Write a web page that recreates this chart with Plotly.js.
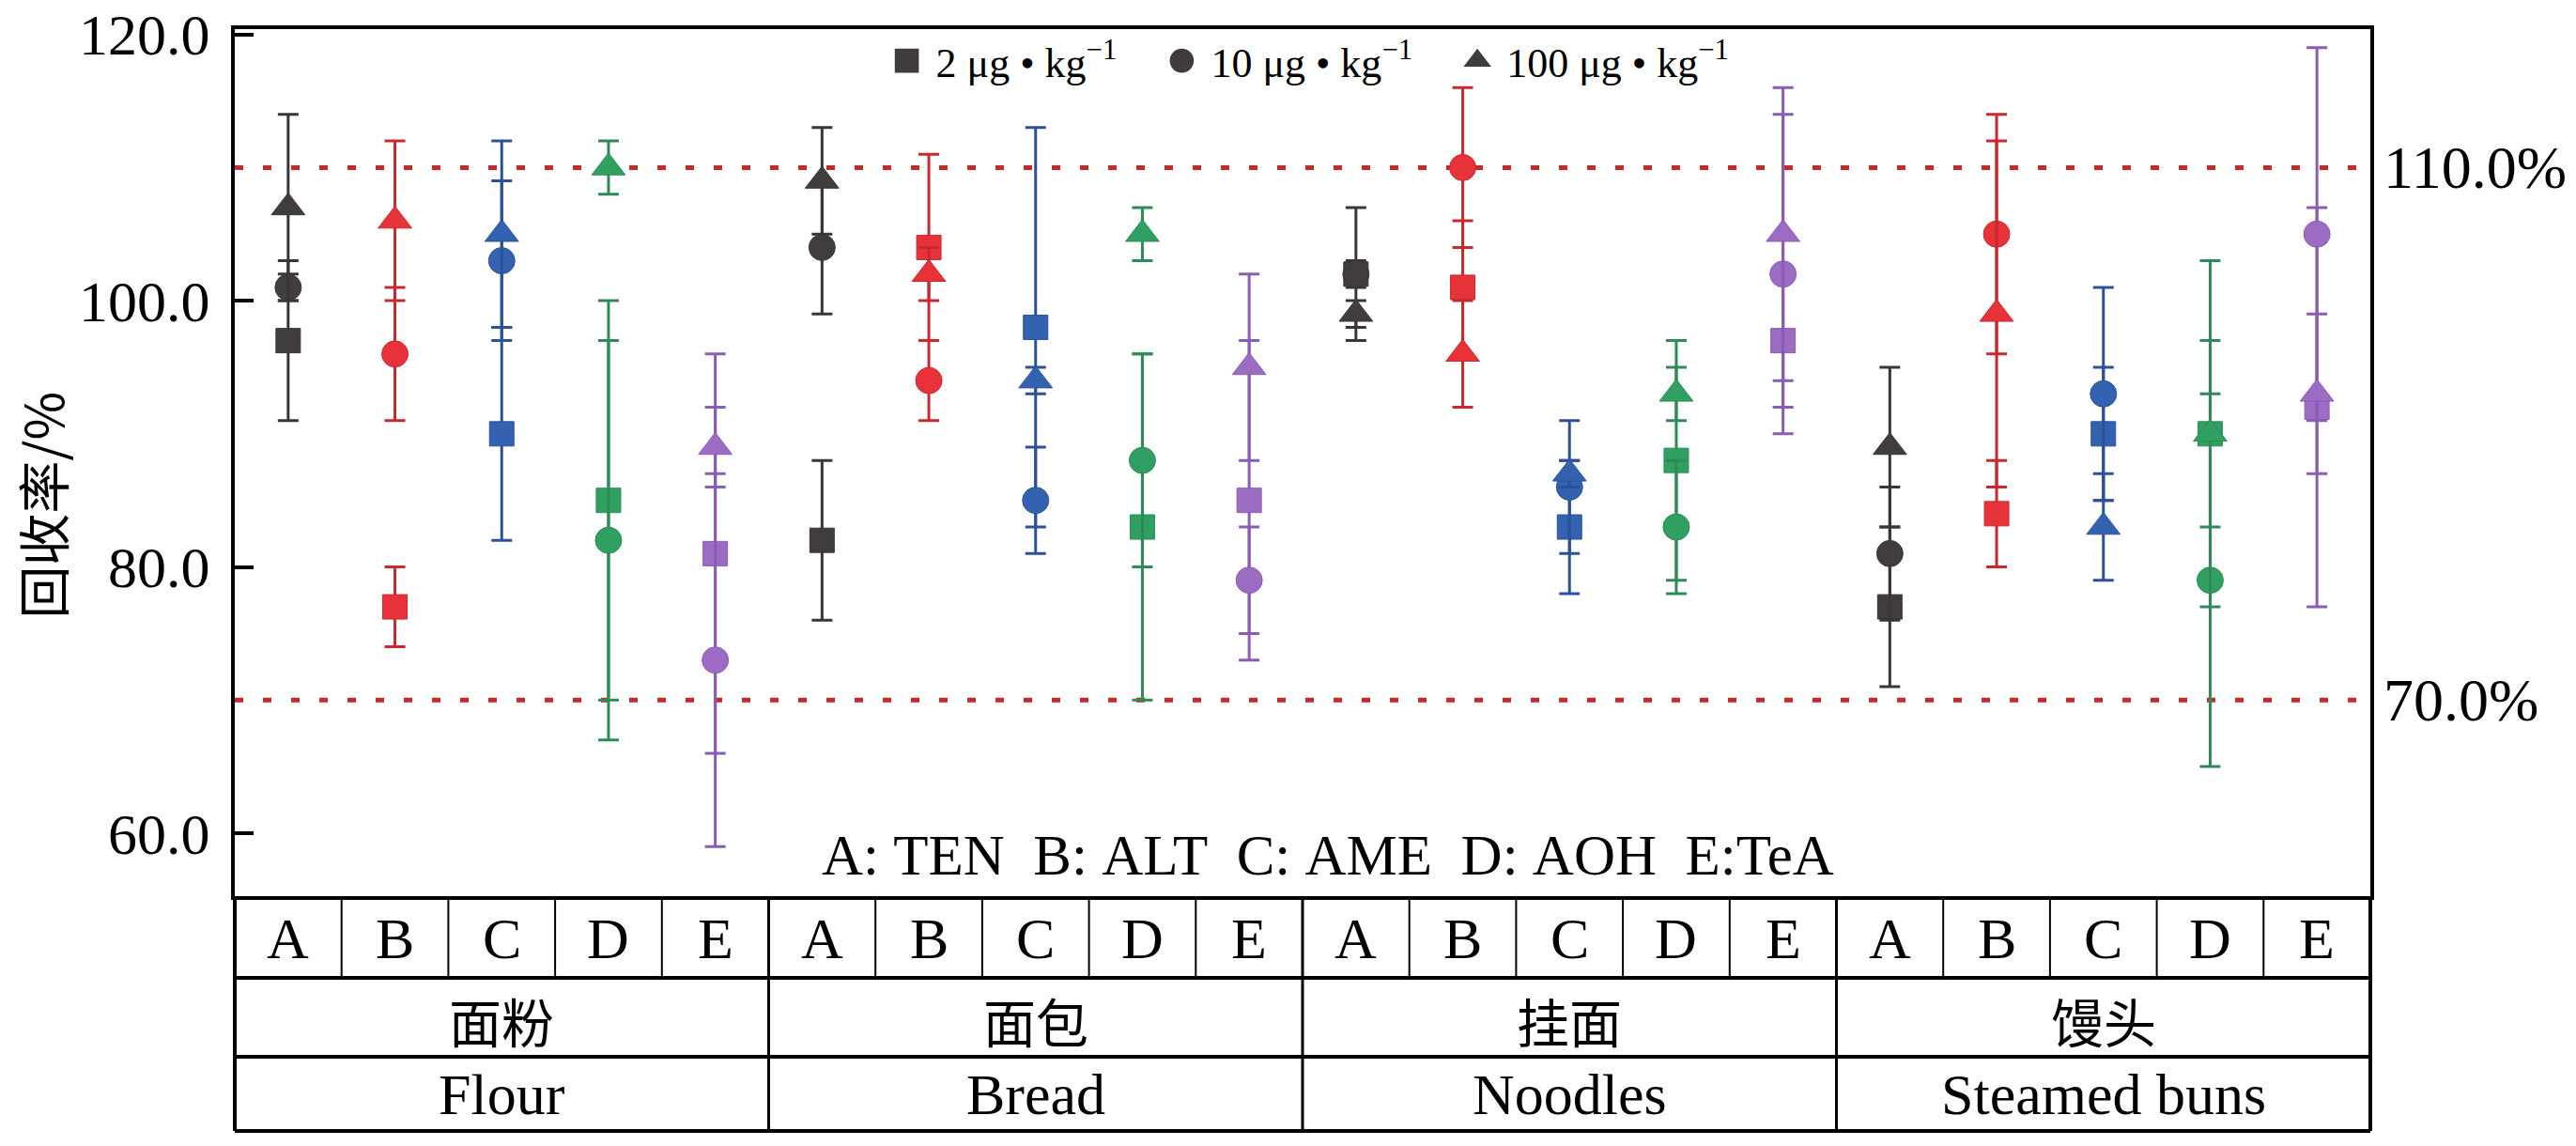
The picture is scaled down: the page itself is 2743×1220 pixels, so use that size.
<!DOCTYPE html>
<html>
<head>
<meta charset="utf-8">
<script src="https://cdn.plot.ly/plotly-3.0.1.min.js"></script>
<style>html,body{margin:0;padding:0;background:#fff;}#chart{width:2743px;height:1220px;}</style>
</head>
<body>
<div id="chart"></div>
<script>
// ---- data ----
const categories = ['A', 'B', 'C', 'D', 'E'];
const analyteNames = ['TEN', 'ALT', 'AME', 'AOH', 'TeA'];
const foodsZh = ['面粉', '面包', '挂面', '馒头'];
const foodsEn = ['Flour', 'Bread', 'Noodles', 'Steamed buns'];
const concLabels = ['2 μg • kg<sup>−1</sup>', '10 μg • kg<sup>−1</sup>', '100 μg • kg<sup>−1</sup>'];

// columns: Flour A–E, Bread A–E, Noodles A–E, Steamed buns A–E
const rec2   = [97, 77, 90, 85, 81,   82, 104, 98, 83, 85,   102, 101, 83, 88, 97,   77, 84, 90, 90, 92];
const sd2    = [6, 3, 8, 15, 15,      6, 7, 15, 13, 12,      5, 5, 5, 9, 5,          6, 4, 5, 7, 15];
const rec10  = [101, 96, 103, 82, 73, 104, 94, 85, 88, 79,   102, 110, 86, 83, 102,  81, 105, 93, 79, 105];
const sd10   = [1, 5, 6, 15, 14,      5, 3, 4, 8, 4,         1, 6, 5, 5, 12,         5, 9, 8, 14, 14];
const rec100 = [107, 106, 105, 110, 89, 109, 102, 94, 105, 95, 99, 96, 87, 93, 105,  89, 99, 83, 90, 93];
const sd100  = [7, 6, 7, 2, 3,        4, 2, 1, 2, 7,         1, 4, 1, 2, 11,         6, 13, 4, 13, 6];

const limitHigh = 110;
const limitLow = 70;
const yTickVals = [60, 80, 100, 120];

// ---- styles ----
const markerColors = ['#413d3d', '#e8323a', '#3262b0', '#2fa062', '#9b6cc2'];
const lineColors   = ['#3a3636', '#c9282e', '#2d5199', '#2e8a56', '#8a5cb3'];
const symbols = ['square', 'circle', 'triangle-up'];
const symSizes = [26, 28, 31];
const FONT = 'Liberation Serif, Times New Roman, serif';
const CJK = 'Noto Sans CJK SC, sans-serif';
const NB = '\u00a0';

const series = [[rec2, sd2], [rec10, sd10], [rec100, sd100]];
const nCols = rec2.length;
const xs = rec2.map((_, i) => i + 1);

const traces = [];
series.forEach(([rec, sd], c) => {
  categories.forEach((cat, a) => {
    const idx = xs.map((_, i) => i).filter(i => i % 5 === a);
    traces.push({
      type: 'scatter', mode: 'markers', showlegend: false,
      name: analyteNames[a] + ' ' + concLabels[c],
      x: idx.map(i => xs[i]), y: idx.map(i => rec[i]),
      error_y: {type: 'data', array: idx.map(i => sd[i]), visible: true,
                color: lineColors[a], thickness: 3, width: 11},
      marker: {symbol: symbols[c], size: symSizes[c], color: markerColors[a],
               line: {color: lineColors[a], width: 1}}
    });
  });
});
// legend-only traces (dark grey symbols)
symbols.forEach((s, c) => {
  traces.push({type: 'scatter', mode: 'markers', x: [null], y: [null],
               name: NB + concLabels[c] + (c < 2 ? NB.repeat(4) : ''),
               marker: {symbol: s, size: 16, color: '#403c3c'}, showlegend: true});
});

// ---- table under plot ----
const plotTop = 31, plotBottom = 954, plotH = plotBottom - plotTop;
const py = Y => (plotBottom - Y) / plotH;
const row1B = 1041, row2B = 1125, row3B = 1204;
const shapes = [];
[limitHigh, limitLow].forEach(v => shapes.push({type: 'line', xref: 'paper', x0: 0, x1: 1, yref: 'y', y0: v, y1: v,
  line: {color: '#c42a2a', width: 5, dash: '9px,21px'}, layer: 'below'}));
[row1B, row2B, row3B].forEach(Y => shapes.push({type: 'line', xref: 'paper', x0: 0, x1: 1, yref: 'paper', y0: py(Y), y1: py(Y),
  line: {color: '#000', width: 4}}));
[0, 1].forEach(X => shapes.push({type: 'line', xref: 'paper', x0: X, x1: X, yref: 'paper', y0: py(row3B), y1: 0,
  line: {color: '#000', width: 4}}));
for (let k = 1; k < nCols; k++) {
  const grp = k % 5 === 0;
  shapes.push({type: 'line', xref: 'x', x0: k + 0.5, x1: k + 0.5, yref: 'paper',
    y0: grp ? py(row3B) : py(row1B), y1: 0, line: {color: '#000', width: grp ? 3 : 2}});
}

const annotations = [];
xs.forEach((x, i) => annotations.push({xref: 'x', x: x, yref: 'paper', y: py(999), yanchor: 'middle',
  text: categories[i % 5], showarrow: false, font: {family: FONT, size: 62, color: '#000'}}));
foodsZh.forEach((f, g) => {
  annotations.push({xref: 'x', x: g * 5 + 3, yref: 'paper', y: py(1085), yanchor: 'middle',
    text: f, showarrow: false, font: {family: CJK, size: 56, color: '#000'}});
  annotations.push({xref: 'x', x: g * 5 + 3, yref: 'paper', y: py(1165), yanchor: 'middle',
    text: foodsEn[g], showarrow: false, font: {family: FONT, size: 62, color: '#000'}});
});
const keyText = categories.map((c, i) => c + ':' + (i < 4 ? NB : '') + analyteNames[i]).join(NB + NB);
annotations.push({xref: 'paper', x: 0.512, yref: 'paper', y: py(910), yanchor: 'middle', text: keyText,
  showarrow: false, font: {family: FONT, size: 61, color: '#000'}});
[limitHigh, limitLow].forEach(v => annotations.push({xref: 'paper', x: 1, xshift: 12, xanchor: 'left', yref: 'y', y: v,
  yanchor: 'middle', text: v.toFixed(1) + '%', showarrow: false, font: {family: FONT, size: 64, color: '#000'}}));
annotations.push({xref: 'paper', x: 0, xshift: -250, yref: 'paper', y: py(538), yanchor: 'middle',
  textangle: -90, text: '回收率/%', showarrow: false, font: {family: CJK + ', ' + FONT, size: 56, color: '#000'}});

const layout = {
  width: 2743, height: 1220,
  margin: {l: 250, r: 219, t: plotTop, b: 1220 - plotBottom, pad: 0},
  paper_bgcolor: '#fff', plot_bgcolor: '#fff',
  showlegend: true,
  legend: {orientation: 'h', x: 0.504, xanchor: 'center', y: py(65), yanchor: 'middle',
           font: {family: FONT, size: 44, color: '#000'}, bgcolor: 'rgba(0,0,0,0)', itemclick: false, itemdoubleclick: false},
  xaxis: {range: [0.5, nCols + 0.5], showticklabels: false,
          ticks: '', showgrid: false, zeroline: false, showline: true, mirror: true, linewidth: 4, linecolor: '#000',
          fixedrange: true},
  yaxis: {range: [55.27, 120.4], tickvals: yTickVals, ticktext: yTickVals.map(v => v.toFixed(1)),
          ticks: 'inside', ticklen: 20, tickwidth: 4, tickcolor: '#000', showgrid: false, zeroline: false,
          showline: true, mirror: true, linewidth: 4, linecolor: '#000',
          tickfont: {family: FONT, size: 62, color: '#000'}, ticklabelstandoff: 10},
  shapes: shapes,
  annotations: annotations
};

Plotly.newPlot('chart', traces, layout, {staticPlot: true, displayModeBar: false}).then(() => {
  document.querySelectorAll('.legend .legendpoints path').forEach(p => {
    const t = p.getAttribute('transform') || '';
    p.setAttribute('transform', t + ' scale(1.6)');
  });
});
</script>
</body>
</html>
